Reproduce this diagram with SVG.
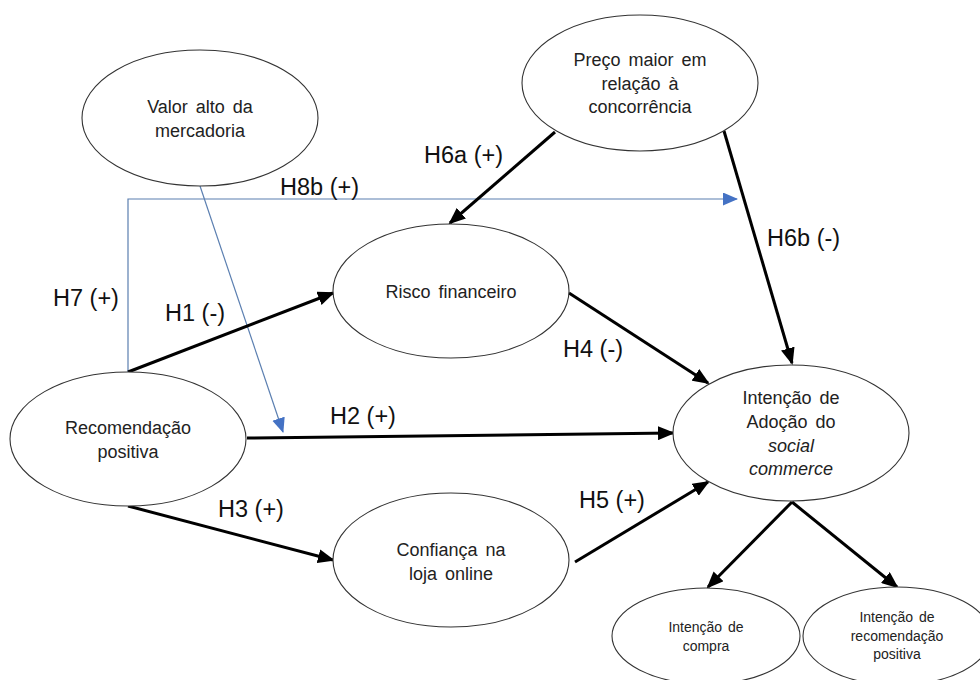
<svg xmlns="http://www.w3.org/2000/svg" width="980" height="680" viewBox="0 0 980 680">
<defs>
<style>
.node ellipse{fill:#fff;stroke:#333;stroke-width:1.1}
.nt{font-family:"Liberation Sans",Arial,sans-serif;font-size:18px;fill:#222;text-anchor:middle;word-spacing:3px}
.st{font-family:"Liberation Sans",Arial,sans-serif;font-size:14px;fill:#222;text-anchor:middle;word-spacing:2px}
.lbl{font-family:"Liberation Sans",Arial,sans-serif;font-size:23.5px;fill:#111}
.arr{stroke:#000;stroke-width:3;fill:none;marker-end:url(#ah)}
.blue{stroke:#5b7fb0;stroke-width:1.2;fill:none;marker-end:url(#bh)}
</style>
<marker id="ah" markerUnits="userSpaceOnUse" markerWidth="18" markerHeight="14" refX="15" refY="7" orient="auto">
<path d="M0,0 L17,7 L0,14 z" fill="#000"/>
</marker>
<marker id="bh" markerUnits="userSpaceOnUse" markerWidth="16" markerHeight="14" refX="14" refY="6.5" orient="auto">
<path d="M0,0 L15,6.5 L0,13 z" fill="#4472c4"/>
</marker>
</defs>
<rect width="980" height="680" fill="#fff"/>

<g id="connectors">
<path class="blue" d="M128,372 L128,199 L737,199"/>
<line class="blue" x1="200" y1="186" x2="283" y2="432"/>
<line class="arr" x1="128" y1="372" x2="333" y2="293"/>
<line class="arr" x1="247" y1="438" x2="673" y2="433"/>
<line class="arr" x1="128" y1="506" x2="333" y2="560"/>
<line class="arr" x1="569" y1="293" x2="708" y2="383"/>
<line class="arr" x1="575" y1="562" x2="708" y2="482"/>
<line class="arr" x1="555" y1="132" x2="450" y2="223"/>
<line class="arr" x1="724" y1="131" x2="792" y2="363"/>
<line class="arr" x1="792" y1="502" x2="708" y2="587"/>
<line class="arr" x1="792" y1="502" x2="897" y2="587"/>
</g>

<g id="labels">
<text class="lbl" x="53" y="306">H7 (+)</text>
<text class="lbl" x="165" y="321">H1 (-)</text>
<text class="lbl" x="280" y="195">H8b (+)</text>
<text class="lbl" x="424" y="163">H6a (+)</text>
<text class="lbl" x="767" y="246">H6b (-)</text>
<text class="lbl" x="563" y="357">H4 (-)</text>
<text class="lbl" x="330" y="424">H2 (+)</text>
<text class="lbl" x="218" y="517">H3 (+)</text>
<text class="lbl" x="579" y="508">H5 (+)</text>
</g>

<g id="valor" class="node">
<ellipse cx="200" cy="118" rx="118" ry="68"/>
<text class="nt" x="200" y="113">Valor alto da</text>
<text class="nt" x="200" y="137">mercadoria</text>
</g>
<g id="preco" class="node">
<ellipse cx="640" cy="83" rx="118" ry="68"/>
<text class="nt" x="640" y="66">Preço maior em</text>
<text class="nt" x="640" y="90">relação à</text>
<text class="nt" x="640" y="113">concorrência</text>
</g>
<g id="risco" class="node">
<ellipse cx="451" cy="291" rx="118" ry="67"/>
<text class="nt" x="451" y="298">Risco financeiro</text>
</g>
<g id="recomendacao" class="node">
<ellipse cx="128" cy="439" rx="118" ry="67"/>
<text class="nt" x="128" y="434">Recomendação</text>
<text class="nt" x="128" y="458">positiva</text>
</g>
<g id="confianca" class="node">
<ellipse cx="451" cy="560" rx="118" ry="67"/>
<text class="nt" x="451" y="556">Confiança na</text>
<text class="nt" x="451" y="580">loja online</text>
</g>
<g id="intencao" class="node">
<ellipse cx="791" cy="433" rx="118" ry="68"/>
<text class="nt" x="791" y="404">Intenção de</text>
<text class="nt" x="791" y="428">Adoção do</text>
<text class="nt" x="791" y="452" font-style="italic">social</text>
<text class="nt" x="791" y="475" font-style="italic">commerce</text>
</g>
<g id="compra" class="node">
<ellipse cx="706" cy="636" rx="94" ry="48"/>
<text class="st" x="706" y="632">Intenção de</text>
<text class="st" x="706" y="651">compra</text>
</g>
<g id="recpos" class="node">
<ellipse cx="897" cy="636" rx="94" ry="49"/>
<text class="st" x="897" y="622">Intenção de</text>
<text class="st" x="897" y="641">recomendação</text>
<text class="st" x="897" y="659">positiva</text>
</g>
</svg>
